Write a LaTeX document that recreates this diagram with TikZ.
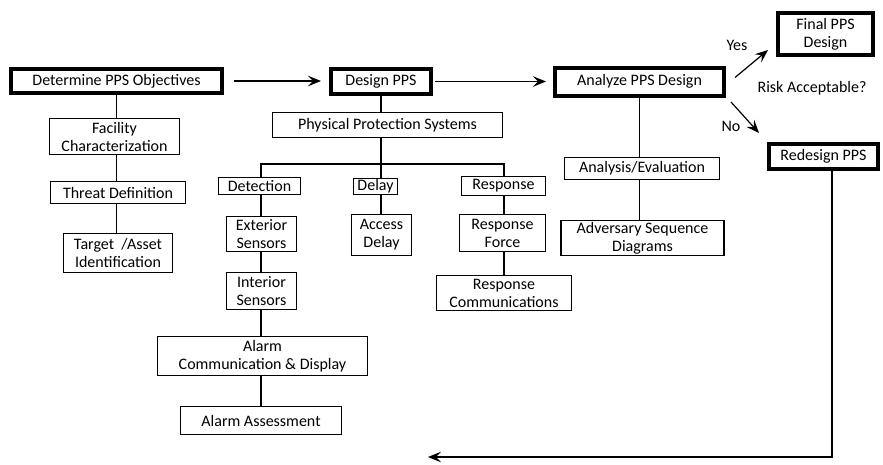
\documentclass[tikz,border=0pt]{standalone}
\usepackage{fontspec}
\setmainfont{Carlito}
\usetikzlibrary{arrows.meta}
\pgfdeclarelayer{bg}
\pgfsetlayers{bg,main}

\tikzset{
  itembox/.style={draw, fill=white, line width=1.2pt, inner sep=0pt, align=center},
  stagebox/.style={itembox, line width=4pt},
  link/.style={line width=1.2pt},
  arr/.style={line width=1.2pt, -{Stealth[length=13pt, width=10.5pt, inset=5pt]}},
}

\begin{document}
\begin{tikzpicture}[x=1pt, y=-1pt, font=\fontsize{16}{18}\selectfont]
    \useasboundingbox (0,0) rectangle (883,464);

    % main stages
    \node[stagebox, minimum width=211pt, minimum height=24pt] (det) at (116.5, 81) {Determine PPS Objectives};
    \node[stagebox, minimum width=100pt, minimum height=25pt] (design) at (381, 81.5) {Design PPS};
    \node[stagebox, minimum width=169pt, minimum height=28pt] (analyze) at (639.5, 81.5) {Analyze PPS Design};
    \node[stagebox, minimum width=95pt, minimum height=42pt] (final) at (825.5, 34) {Final PPS\\Design};
    \node[stagebox, minimum width=109pt, minimum height=25pt] (redesign) at (823.5, 156.5) {Redesign PPS};

    % objectives
    \node[itembox, minimum width=130pt, minimum height=36pt] (fac) at (114.5, 136.5) {Facility\\Characterization};
    \node[itembox, minimum width=135pt, minimum height=22pt] (threat) at (118, 192.5) {Threat Definition};
    \node[itembox, minimum width=109pt, minimum height=39pt] (target) at (118, 253) {Target~ /Asset\\Identification};

    % design
    \node[itembox, minimum width=230pt, minimum height=25pt] (pps) at (387.5, 125) {Physical Protection Systems};
    \node[itembox, minimum width=82pt, minimum height=17pt] (detect) at (259.5, 186) {Detection};
    \node[itembox, minimum width=44pt, minimum height=16pt] (delay) at (375.5, 186.5) {Delay};
    \node[itembox, minimum width=84pt, minimum height=19pt] (resp) at (503.5, 186) {Response};
    \node[itembox, minimum width=70pt, minimum height=35pt] (exts) at (261.5, 234) {Exterior\\Sensors};
    \node[itembox, minimum width=70pt, minimum height=37pt] (ints) at (261.5, 291) {Interior\\Sensors};
    \node[itembox, minimum width=210pt, minimum height=39pt] (alarmcd) at (262.5, 356) {Alarm\\Communication \& Display};
    \node[itembox, minimum width=161pt, minimum height=28pt] (assess) at (261, 420.5) {Alarm Assessment};
    \node[itembox, minimum width=60pt, minimum height=41pt] (access) at (381.5, 235) {Access\\Delay};
    \node[itembox, minimum width=86pt, minimum height=37pt] (rforce) at (502.5, 233) {Response\\Force};
    \node[itembox, minimum width=135pt, minimum height=35pt] (rcomm) at (504, 293) {Response\\Communications};

    % analysis
    \node[itembox, minimum width=155pt, minimum height=22pt] (anev) at (642, 168.5) {Analysis/Evaluation};
    \node[itembox, minimum width=163pt, minimum height=35pt] (adv) at (642.5, 238) {Adversary Sequence\\Diagrams};

    % decision
    \node (yes) at (737, 45) {Yes};
    \node (no) at (731, 126) {No};
    \node (risk) at (812, 88) {Risk Acceptable?};

    \coordinate (fork) at (261, 164);
    \coordinate (back) at (428, 457);

    \begin{pgfonlayer}{bg}
      \draw[link] (det) -- (det |- target);
      \draw[link] (design) -- (design |- access);
      \draw[link] (assess) -- (fork) -| (rcomm);
      \draw[link] (analyze) -- (analyze |- adv);
    \end{pgfonlayer}

    \draw[arr, shorten <=10pt, shorten >=8pt] (det.east) -- (det.east -| design.west);
    \draw[arr, shorten <=2pt, shorten >=7pt] (design.east) -- (analyze.west);
    \draw[arr] ([xshift=9pt, yshift=4pt]analyze.east) -- ([xshift=-8pt, yshift=-16pt]final.west);
    \draw[arr] ([xshift=5pt, yshift=-4.5pt]analyze.south east) -- ([xshift=-8pt, yshift=9pt]redesign.north west);
    \draw[arr] ([xshift=8.5pt]redesign.south) |- (back);
\end{tikzpicture}
\end{document}
